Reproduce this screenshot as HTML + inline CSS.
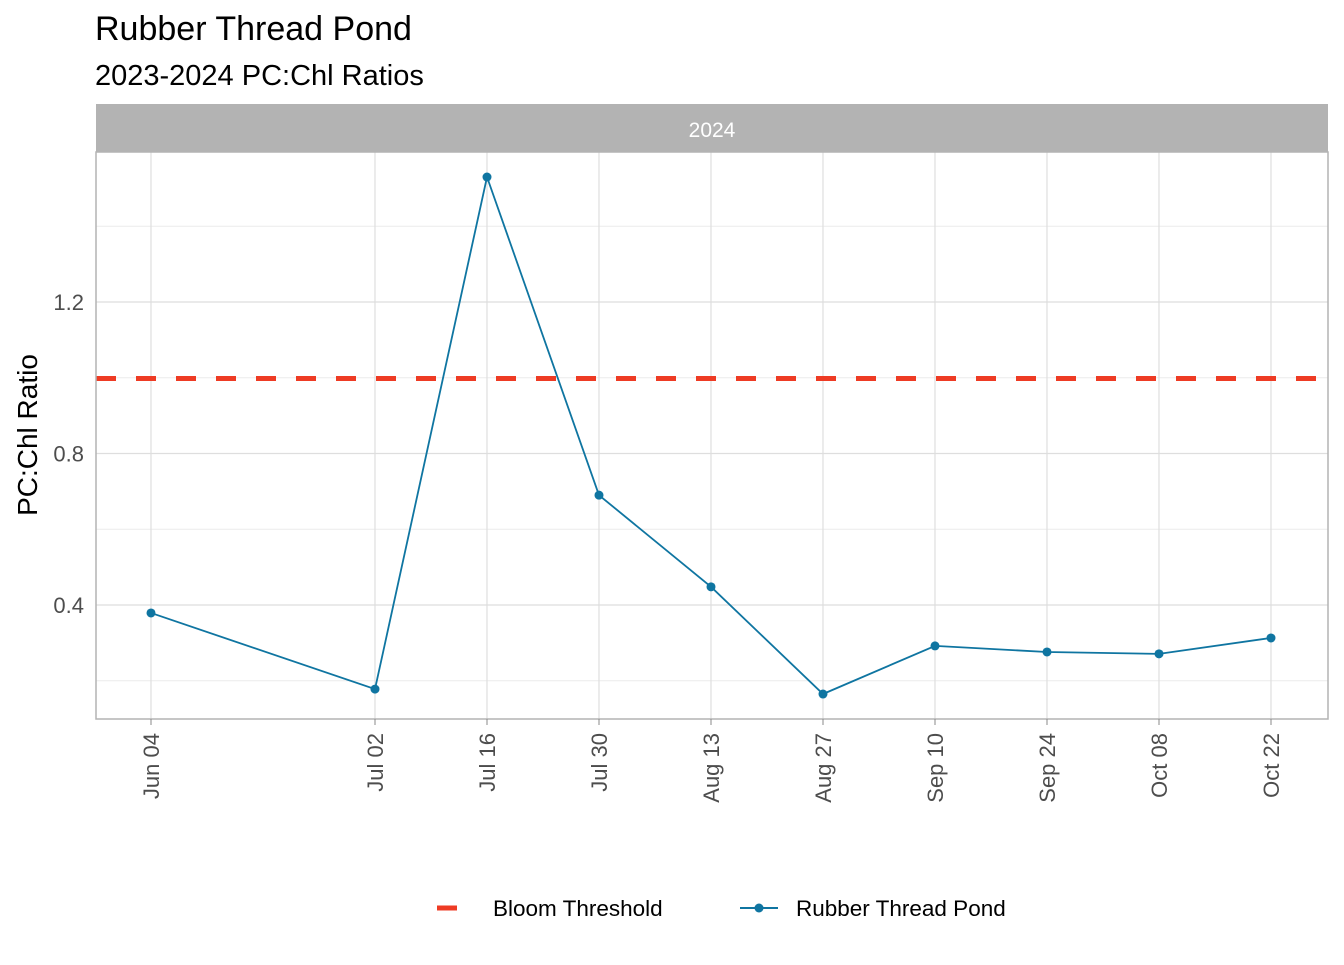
<!DOCTYPE html>
<html><head><meta charset="utf-8"><style>
body{margin:0;background:#fff;font-family:"Liberation Sans",Arial,sans-serif;}
</style></head><body>
<svg width="1344" height="960" xmlns="http://www.w3.org/2000/svg">
<text x="95" y="40" font-size="34" fill="#000">Rubber Thread Pond</text>
<text x="95" y="85" font-size="29" fill="#000">2023-2024 PC:Chl Ratios</text>
<rect x="96" y="104" width="1232" height="48" fill="#b3b3b3"/>
<text x="712" y="137" font-size="21" fill="#fff" text-anchor="middle">2024</text>
<g id="grid"></g>
<line x1="96" y1="378.5" x2="1328" y2="378.5" stroke="#ee3b24" stroke-width="5" stroke-dasharray="20,20"/>
<g id="series"></g>
<rect x="96" y="152" width="1232" height="567" fill="none" stroke="#b3b3b3" stroke-width="1.5"/>
<g id="axes"></g>
<text transform="translate(37,435) rotate(-90)" font-size="28" text-anchor="middle" fill="#000">PC:Chl Ratio</text>
<line x1="437" y1="908" x2="457" y2="908" stroke="#ee3b24" stroke-width="5"/>
<text x="493" y="916" font-size="22.5" fill="#000">Bloom Threshold</text>
<line x1="740" y1="908" x2="778" y2="908" stroke="#0f75a1" stroke-width="2"/>
<circle cx="759" cy="908" r="4.5" fill="#0f75a1"/>
<text x="796" y="916" font-size="22.5" fill="#000">Rubber Thread Pond</text>
</svg>
<script>
const dayOffsets=[0,28,42,56,70,84,98,112,126,140];
const dateLabels=["Jun 04","Jul 02","Jul 16","Jul 30","Aug 13","Aug 27","Sep 10","Sep 24","Oct 08","Oct 22"];
const ratios=[0.379,0.178,1.53,0.69,0.448,0.165,0.292,0.276,0.271,0.313];
const yTicks=[0.4,0.8,1.2];
const yMinor=[0.2,0.6,1.0,1.4];
const NS="http://www.w3.org/2000/svg";
const xs=d=>151+8*d;
const ys=v=>605-(v-0.4)*378.75;
function mk(tag,attrs,parent){const e=document.createElementNS(NS,tag);for(const k in attrs)e.setAttribute(k,attrs[k]);document.getElementById(parent).appendChild(e);return e;}
yMinor.forEach(v=>{const l=mk('line',{x1:96,x2:1328,y1:ys(v),y2:ys(v),stroke:'#ebebeb','stroke-width':1},'grid');

});
yTicks.forEach(v=>{const l=mk('line',{x1:96,x2:1328,y1:ys(v),y2:ys(v),stroke:'#dedede','stroke-width':1.2},'grid');


const t=mk('text',{x:84,y:ys(v)+8,'font-size':22,fill:'#4d4d4d','text-anchor':'end'},'axes');t.textContent=v.toFixed(1);

});
dayOffsets.forEach((d,i)=>{const x=xs(d);const l=mk('line',{x1:x,x2:x,y1:152,y2:719,stroke:'#dedede','stroke-width':1.2},'grid');


const tk=mk('line',{x1:x,x2:x,y1:719,y2:725,stroke:'#888','stroke-width':1},'axes');


const t=mk('text',{transform:`translate(${x+8},733) rotate(-90)`,'font-size':22,fill:'#4d4d4d','text-anchor':'end'},'axes');t.textContent=dateLabels[i];

});
const pts=dayOffsets.map((d,i)=>xs(d)+','+ys(ratios[i])).join(' ');
const pl=mk('polyline',{points:pts,fill:'none',stroke:'#0f75a1','stroke-width':1.8},'series');


dayOffsets.forEach((d,i)=>{const c=mk('circle',{cx:xs(d),cy:ys(ratios[i]),r:4.5,fill:'#0f75a1'},'series');

});
</script>
</body></html>
